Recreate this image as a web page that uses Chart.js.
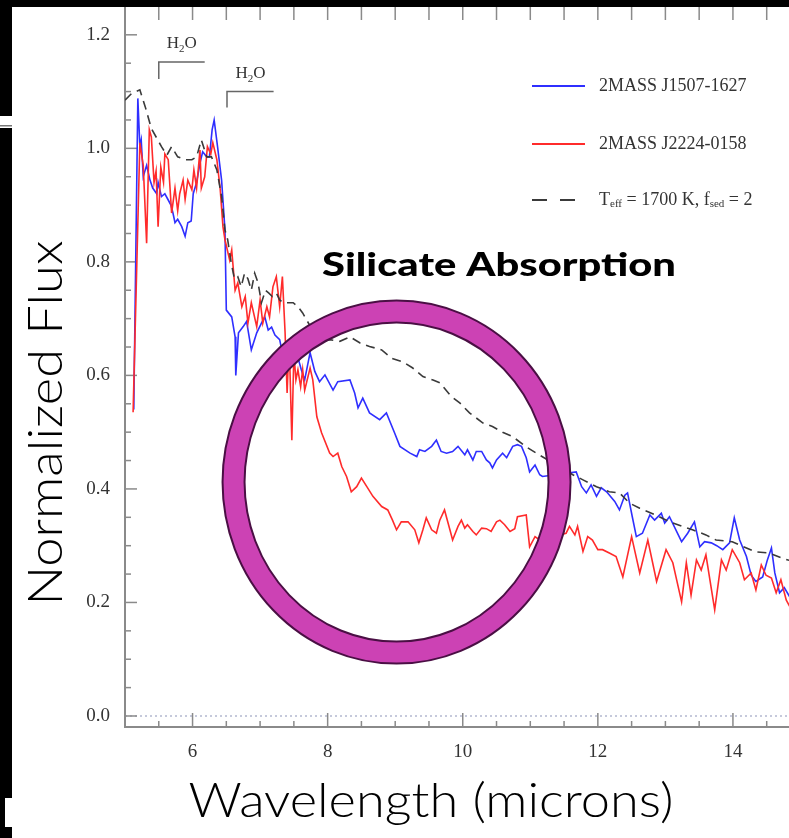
<!DOCTYPE html>
<html>
<head>
<meta charset="utf-8">
<script src="https://cdn.jsdelivr.net/npm/chart.js@4"></script>
<style>
html,body{margin:0;padding:0;background:#fff}
#wrap{position:relative;width:789px;height:838px;overflow:hidden}
</style>
</head>
<body>
<div id="wrap"><canvas id="chart" width="789" height="838"></canvas></div>
<script>
// wavelengths in microns, flux normalized
const blueWave=[5.13,5.19,5.22,5.24,5.27,5.32,5.37,5.41,5.47,5.49,
  5.54,5.59,5.64,5.68,5.71,5.74,5.78,5.84,5.89,5.93,
  5.98,6.01,6.06,6.11,6.15,6.21,6.25,6.29,6.32,6.37,
  6.43,6.45,6.48,6.50,6.58,6.63,6.64,6.68,6.75,6.80,
  6.87,6.95,7.02,7.07,7.12,7.17,7.22,7.29,7.34,7.41,
  7.47,7.54,7.61,7.66,7.74,7.81,7.88,7.96,8.08,8.15,
  8.33,8.40,8.45,8.52,8.62,8.77,8.87,8.99,9.07,9.22,
  9.32,9.36,9.44,9.54,9.61,9.68,9.76,9.85,9.93,10.03,
  10.07,10.15,10.20,10.28,10.35,10.40,10.44,10.50,10.59,10.65,
  10.74,10.81,10.87,10.94,10.99,11.07,11.14,11.18,11.68,11.76,
  11.83,11.90,11.98,12.05,12.13,12.25,12.32,12.40,12.44,12.51,
  12.57,12.66,12.77,12.84,12.94,12.99,13.06,13.24,13.33,13.43,
  13.51,13.58,13.68,13.76,13.85,13.95,14.02,14.10,14.20,14.27,
  14.34,14.44,14.51,14.57,14.62,14.69,14.76,14.84];
const blueFlux=[0.54,1.088,1.003,1.015,0.95,0.97,0.944,0.93,0.92,0.94,
  0.915,0.92,0.909,0.90,0.886,0.869,0.875,0.862,0.845,0.869,
  0.872,0.92,0.94,0.974,0.994,0.985,0.985,1.033,1.05,1.003,
  0.944,0.909,0.856,0.715,0.703,0.668,0.60,0.675,0.686,0.695,
  0.645,0.675,0.692,0.703,0.68,0.685,0.671,0.663,0.633,0.657,
  0.627,0.64,0.61,0.592,0.64,0.607,0.589,0.601,0.574,0.589,
  0.592,0.569,0.543,0.56,0.534,0.522,0.534,0.499,0.475,0.463,
  0.457,0.469,0.466,0.475,0.486,0.466,0.463,0.466,0.475,0.46,
  0.469,0.451,0.466,0.466,0.451,0.446,0.437,0.451,0.463,0.455,
  0.475,0.478,0.475,0.455,0.43,0.442,0.425,0.422,0.43,0.404,
  0.393,0.407,0.387,0.402,0.395,0.378,0.363,0.389,0.393,0.351,
  0.316,0.322,0.354,0.345,0.357,0.34,0.351,0.307,0.322,0.342,
  0.298,0.307,0.305,0.30,0.293,0.305,0.349,0.31,0.281,0.248,
  0.237,0.245,0.275,0.296,0.252,0.217,0.226,0.21];

const redWave=[5.12,5.22,5.27,5.32,5.36,5.39,5.43,5.46,5.49,5.53,
  5.57,5.59,5.64,5.69,5.74,5.78,5.81,5.86,5.89,5.93,
  5.99,6.02,6.06,6.11,6.13,6.18,6.22,6.27,6.30,6.36,
  6.41,6.45,6.48,6.55,6.58,6.63,6.67,6.73,6.78,6.82,
  6.87,6.95,7.00,7.04,7.10,7.14,7.19,7.24,7.29,7.33,
  7.37,7.40,7.43,7.47,7.50,7.53,7.56,7.60,7.63,7.66,
  7.74,7.78,7.84,7.91,8.03,8.08,8.15,8.21,8.28,8.35,
  8.43,8.50,8.58,8.67,8.80,8.89,8.96,9.02,9.09,9.19,
  9.29,9.35,9.41,9.46,9.54,9.61,9.66,9.73,9.81,9.85,
  9.93,9.98,10.03,10.07,10.15,10.20,10.28,10.35,10.42,10.50,
  10.55,10.62,10.70,10.77,10.81,10.94,10.99,11.07,11.14,11.53,
  11.58,11.66,11.70,11.78,11.85,11.92,12.00,12.07,12.17,12.27,
  12.37,12.50,12.62,12.74,12.87,13.01,13.11,13.24,13.31,13.38,
  13.46,13.53,13.60,13.73,13.83,13.90,13.99,14.10,14.17,14.27,
  14.34,14.42,14.49,14.57,14.64,14.71,14.79,14.84];
const redFlux=[0.535,1.01,0.97,0.833,1.033,1.02,0.94,0.96,0.862,0.967,
  0.94,0.99,0.98,0.886,0.93,0.89,0.92,0.944,0.91,0.944,
  0.927,0.962,0.93,0.997,0.93,0.95,1.003,0.99,1.01,0.98,
  0.927,0.862,0.839,0.803,0.821,0.75,0.763,0.721,0.739,0.692,
  0.728,0.686,0.733,0.692,0.721,0.703,0.756,0.774,0.721,0.774,
  0.675,0.569,0.663,0.486,0.64,0.592,0.61,0.58,0.61,0.574,
  0.613,0.592,0.527,0.499,0.463,0.457,0.463,0.439,0.422,0.395,
  0.404,0.419,0.404,0.387,0.369,0.363,0.345,0.328,0.342,0.342,
  0.328,0.305,0.328,0.349,0.328,0.322,0.345,0.363,0.328,0.31,
  0.334,0.345,0.331,0.337,0.325,0.319,0.331,0.33,0.325,0.342,
  0.345,0.337,0.325,0.33,0.351,0.354,0.298,0.316,0.31,0.322,
  0.334,0.319,0.334,0.29,0.316,0.31,0.293,0.293,0.287,0.281,
  0.245,0.316,0.252,0.31,0.237,0.293,0.27,0.201,0.27,0.213,
  0.275,0.257,0.284,0.187,0.275,0.257,0.293,0.27,0.24,0.252,
  0.222,0.266,0.248,0.243,0.217,0.24,0.204,0.193];

const modelWave=[5.00,5.10,5.22,5.30,5.39,5.47,5.54,5.62,5.69,5.78,
  5.89,5.99,6.06,6.13,6.21,6.28,6.36,6.43,6.48,6.52,
  6.57,6.62,6.67,6.72,6.77,6.82,6.87,6.92,6.97,7.02,
  7.08,7.13,7.18,7.24,7.29,7.34,7.41,7.49,7.56,7.63,
  7.75,7.88,8.03,8.18,8.33,8.48,8.62,8.80,8.95,9.11,
  9.26,9.41,9.56,9.66,9.83,9.96,10.10,10.30,10.44,10.59,
  10.74,10.94,11.09,11.63,11.78,11.98,12.17,12.32,12.47,12.62,
  12.91,13.06,13.25,13.40,13.60,13.75,13.99,14.20,14.34,14.54,
  14.73,14.84];
const modelFlux=[1.085,1.097,1.103,1.073,1.035,1.018,1.003,0.988,1.003,0.985,
  0.98,0.98,0.985,1.015,0.985,0.985,0.962,0.915,0.856,0.839,
  0.80,0.77,0.774,0.756,0.78,0.77,0.75,0.78,0.763,0.728,
  0.75,0.745,0.739,0.745,0.733,0.728,0.728,0.728,0.721,0.71,
  0.685,0.657,0.663,0.66,0.668,0.657,0.651,0.645,0.63,0.624,
  0.613,0.598,0.592,0.587,0.563,0.551,0.534,0.516,0.51,0.50,
  0.492,0.474,0.463,0.425,0.416,0.404,0.395,0.393,0.375,0.366,
  0.351,0.342,0.334,0.328,0.319,0.31,0.307,0.296,0.289,0.287,
  0.278,0.274];

const seriesNames=['2MASS J1507-1627','2MASS J2224-0158'];
const xRange=[5.0,14.83];
const yRange=[-0.0194,1.249];

const pts=(w,f)=>w.map((x,i)=>({x,y:f[i]}));
const serif='"Liberation Serif","Times New Roman",serif';
const axisGray='#8a8a8a';

const drawRich=(ctx,parts,x,y,size)=>{
  parts.forEach(([t,sub])=>{
    ctx.font=(sub?Math.round(size*0.62):size)+'px '+serif;
    ctx.fillText(t,x,y+(sub?size*0.25:0));
    x+=ctx.measureText(t).width;
  });
};
// centre text on (cx,cy) and stretch it to a given width
const fitText=(ctx,text,cx,cy,width)=>{
  const m=ctx.measureText(text).width;
  ctx.save();ctx.translate(cx,cy);ctx.scale(width/m,1);ctx.fillText(text,0,0);ctx.restore();
};

const decor={
  id:'decor',
  beforeDraw(c){const ctx=c.ctx;ctx.save();ctx.fillStyle='#fff';ctx.fillRect(0,0,c.width,c.height);ctx.restore();},
  beforeDatasetsDraw(c){
    const {ctx,chartArea:a,scales:{x,y}}=c;
    ctx.save();
    ctx.strokeStyle='#8c93b8';ctx.lineWidth=1.2;ctx.setLineDash([2,3]);
    const y0=y.getPixelForValue(0);
    ctx.beginPath();ctx.moveTo(a.left,y0);ctx.lineTo(a.right,y0);ctx.stroke();
    ctx.setLineDash([]);
    ctx.strokeStyle=axisGray;ctx.lineWidth=1.5;
    x.ticks.forEach(t=>{
      const px=x.getPixelForValue(t.value);
      const major=Math.abs(t.value%2)<1e-6;
      ctx.beginPath();ctx.moveTo(px,a.bottom);ctx.lineTo(px,a.bottom-(major?14:6));ctx.stroke();
      ctx.beginPath();ctx.moveTo(px,a.top);ctx.lineTo(px,a.top+13);ctx.stroke();
    });
    y.ticks.forEach(t=>{
      const py=y.getPixelForValue(t.value);
      const major=Math.abs(t.value*5-Math.round(t.value*5))<1e-6;
      ctx.beginPath();ctx.moveTo(a.left,py);ctx.lineTo(a.left+(major?12:6),py);ctx.stroke();
    });
    ctx.lineWidth=2;
    ctx.beginPath();ctx.moveTo(a.left,a.top);ctx.lineTo(a.left,a.bottom);ctx.lineTo(a.right,a.bottom);ctx.stroke();
    // H2O bands
    ctx.strokeStyle='#666';ctx.lineWidth=1.5;ctx.fillStyle='#333';ctx.textBaseline='alphabetic';
    [[5.5,6.18,1.152,1.122],[6.51,7.2,1.10,1.072]].forEach(([x1,x2,yv,yb])=>{
      const l=x.getPixelForValue(x1),r=x.getPixelForValue(x2),t=y.getPixelForValue(yv),b=y.getPixelForValue(yb);
      ctx.beginPath();ctx.moveTo(l,b);ctx.lineTo(l,t);ctx.lineTo(r,t);ctx.stroke();
      ctx.font='17px '+serif;
      const w=ctx.measureText('HO').width+ctx.measureText('2').width*0.62;
      drawRich(ctx,[['H'],['2',1],['O']],(l+r)/2-w/2,t-14,17);
    });
    ctx.restore();
  },
  afterDatasetsDraw(c){
    const {ctx,scales:{x,y}}=c;
    ctx.save();
    const cx=x.getPixelForValue(9.02),cy=y.getPixelForValue(0.412);
    ctx.beginPath();ctx.ellipse(cx,cy,163,170.5,0,0,Math.PI*2);
    ctx.strokeStyle='#4a0f44';ctx.lineWidth=24;ctx.stroke();
    ctx.strokeStyle='#cc42b4';ctx.lineWidth=20;ctx.stroke();
    ctx.fillStyle='#000';ctx.font='900 33px Lato';ctx.textAlign='center';ctx.textBaseline='alphabetic';
    fitText(ctx,'Silicate Absorption',499,276,354);
    ctx.restore();
  },
  afterDraw(c){
    const {ctx}=c;
    ctx.save();
    const ds=c.data.datasets;
    const rows=[86,144,200];
    ctx.lineWidth=2;
    rows.forEach((ry,i)=>{
      ctx.strokeStyle=ds[i].borderColor;
      ctx.setLineDash(i===2?[15,13]:[]);
      ctx.beginPath();ctx.moveTo(532,ry);ctx.lineTo(i===2?575:585,ry);ctx.stroke();
    });
    ctx.setLineDash([]);
    ctx.fillStyle='#333';ctx.textBaseline='middle';ctx.textAlign='left';
    ctx.font='18px '+serif;
    ctx.fillText(seriesNames[0],599,rows[0]);
    ctx.fillText(seriesNames[1],599,rows[1]);
    drawRich(ctx,[['T'],['eff',1],[' = 1700 K, f'],['sed',1],[' = 2']],599,rows[2],18);
    // axis titles
    ctx.fillStyle='#000';ctx.font='300 47px Lato';ctx.textAlign='center';ctx.textBaseline='alphabetic';
    fitText(ctx,'Wavelength (microns)',431,817,485);
    ctx.translate(62,423);ctx.rotate(-Math.PI/2);
    fitText(ctx,'Normalized Flux',0,0,365);
    ctx.setTransform(1,0,0,1,0,0);
    // photo border
    ctx.fillStyle='#000';
    ctx.fillRect(0,0,c.width,7);
    ctx.fillRect(0,0,12,116);
    ctx.fillRect(0,128,12,670);
    ctx.fillRect(0,798,5,29);
    ctx.fillRect(0,827,12,11);
    ctx.fillStyle='#777';ctx.fillRect(0,125,12,1.5);
    ctx.restore();
  }
};

new Chart(document.getElementById('chart'),{
  type:'line',
  data:{datasets:[
    {label:seriesNames[0],data:pts(blueWave,blueFlux),borderColor:'#2f2fff',borderWidth:1.6,pointRadius:0,order:3},
    {label:seriesNames[1],data:pts(redWave,redFlux),borderColor:'#ff2b2b',borderWidth:1.6,pointRadius:0,order:2},
    {label:'Teff = 1700 K, fsed = 2',data:pts(modelWave,modelFlux),borderColor:'#3a3a3a',borderWidth:1.6,borderDash:[9,6],pointRadius:0,order:1}
  ]},
  options:{
    responsive:false,animation:false,devicePixelRatio:1,
    layout:{padding:{top:7,right:0,left:0,bottom:0}},
    plugins:{legend:{display:false},tooltip:{enabled:false}},
    elements:{line:{tension:0}},
    scales:{
      x:{type:'linear',min:xRange[0],max:xRange[1],
        grid:{display:false},border:{display:false},
        ticks:{stepSize:0.5,includeBounds:false,autoSkip:false,maxRotation:0,padding:6,color:'#333',font:{family:serif,size:19},
          callback:v=>Math.abs(v%2)<1e-6?String(v):''},
        afterFit:s=>{s.height=111;s.paddingLeft=0;s.paddingRight=0;}},
      y:{type:'linear',min:yRange[0],max:yRange[1],
        grid:{display:false},border:{display:false},
        ticks:{stepSize:0.05,includeBounds:false,autoSkip:false,padding:7,color:'#333',font:{family:serif,size:19},
          callback:v=>Math.abs(v*5-Math.round(v*5))<1e-6?v.toFixed(1):''},
        afterFit:s=>{s.width=125;s.paddingTop=0;s.paddingBottom=0;}}
    }
  },
  plugins:[decor]
});
</script>
</body>
</html>
